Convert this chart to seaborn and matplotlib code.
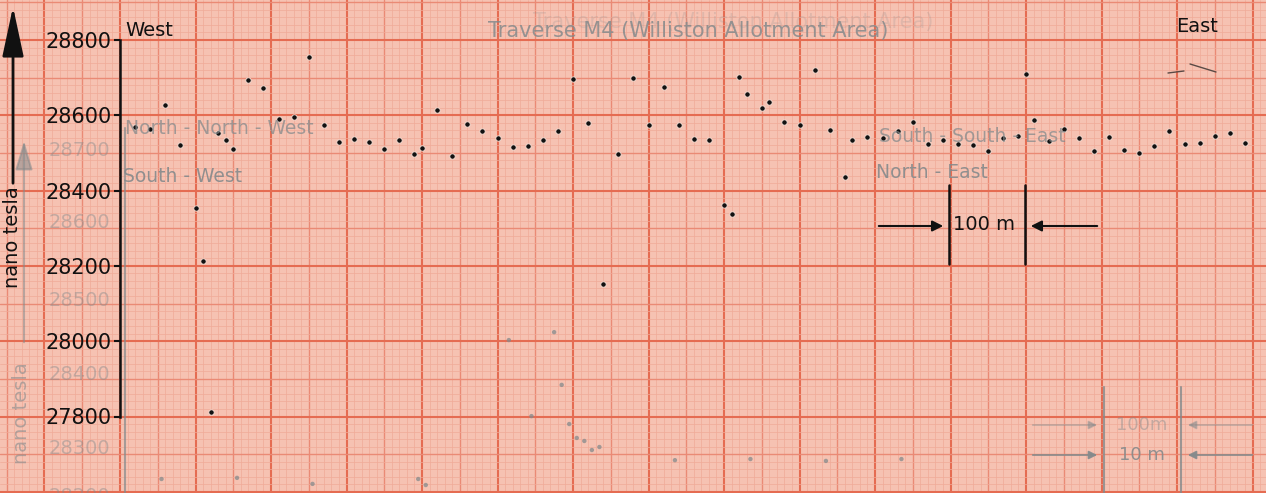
import numpy as np
import pandas as pd
import matplotlib
matplotlib.use("Agg")
import matplotlib.pyplot as plt
import seaborn as sns

# Traverse M4 - Messpunkte (Entfernung in m ab West, Totalfeld in nT)
distance_m = [20, 40, 60, 80, 100, 110, 120, 130, 140, 150,
              170, 190, 210, 230, 250, 270, 290, 310, 330, 350,
              370, 390, 400, 420, 440, 460, 480, 500, 520, 540,
              560, 580, 600, 620, 640, 660, 680, 700, 720, 740,
              760, 780, 800, 810, 820, 830, 850, 860, 880, 900,
              920, 940, 960, 970, 990, 1010, 1030, 1050, 1070, 1090,
              1110, 1130, 1150, 1170, 1190, 1200, 1210, 1230, 1250, 1270,
              1290, 1310, 1330, 1350, 1370, 1390, 1410, 1430, 1450, 1470, 1490]
field_nt = [28570, 28564, 28627, 28520, 28353, 28213, 27811, 28552, 28534, 28511,
            28694, 28672, 28590, 28595, 28754, 28573, 28530, 28536, 28530, 28511,
            28535, 28497, 28512, 28615, 28492, 28578, 28558, 28540, 28516, 28518,
            28534, 28558, 28696, 28579, 28152, 28496, 28698, 28573, 28674, 28573,
            28537, 28534, 28361, 28338, 28703, 28657, 28619, 28635, 28582, 28575,
            28720, 28560, 28435, 28534, 28543, 28541, 28558, 28582, 28524, 28534,
            28524, 28520, 28504, 28541, 28544, 28710, 28587, 28533, 28564, 28541,
            28506, 28542, 28508, 28499, 28518, 28559, 28524, 28526, 28546, 28553, 28527]

# durchscheinende Punkte von der Rueckseite des Blattes
ghost_distance_m = [55, 155, 255, 395, 405, 515, 545, 575, 585, 595,
                    605, 615, 625, 635, 735, 835, 935, 1035]
ghost_field_nt = [27634, 27637, 27621, 27634, 27618, 28003, 27801, 28024, 27884, 27780,
                  27743, 27735, 27711, 27719, 27684, 27687, 27682, 27687]

y_ticks = [27800, 28000, 28200, 28400, 28600, 28800]
ghost_tick_labels = ["28700", "28600", "28500", "28400", "28300", "28200"]

df = pd.DataFrame({"distance": distance_m, "field": field_nt})
df_ghost = pd.DataFrame({"distance": ghost_distance_m, "field": ghost_field_nt})

sns.set_theme(style="white")
plt.rcParams["font.family"] = ["DejaVu Sans"]

W, H = 1266, 493
PX_PER_M = 0.755
PX_PER_NT = 0.3765
X0, Y0 = 120, 40  # Pixel von 0 m bzw. 28800 nT

paper = "#f6c2b2"
ink = "#111111"
ghost = "#858a8c"

fig = plt.figure(figsize=(W / 100, H / 100), dpi=100)
fig.patch.set_facecolor(paper)
ax = fig.add_axes([0, 0, 1, 1])
ax.set_facecolor(paper)
xmin, xmax = -X0 / PX_PER_M, (W - X0) / PX_PER_M
ymin, ymax = 28800 - (H - Y0) / PX_PER_NT, 28800 + Y0 / PX_PER_NT
ax.set_xlim(xmin, xmax)
ax.set_ylim(ymin, ymax)

# Millimeterpapier
def grid_style(v, big, mid):
    if v % big == 0:
        return "#e56c52", 1.5
    if v % mid == 0:
        return "#ea8a75", 1.0
    return "#f0aa98", 0.5

for xv in np.arange(-150, 1520, 10):
    c, lw = grid_style(xv, 100, 50)
    ax.axvline(xv, color=c, lw=lw, zorder=0)
for yv in np.arange(27600, 28920, 20):
    c, lw = grid_style(yv, 200, 100)
    ax.axhline(yv, color=c, lw=lw, zorder=0)

# Messwerte
sns.scatterplot(data=df_ghost, x="distance", y="field", ax=ax, s=10,
                color=ghost, edgecolor="none", alpha=0.75, zorder=3)
sns.scatterplot(data=df, x="distance", y="field", ax=ax, s=15,
                color=ink, edgecolor="#fbe2d8", linewidth=0.6, zorder=4)

# Achse
for side in ["top", "right", "bottom"]:
    ax.spines[side].set_visible(False)
ax.spines["left"].set_position(("data", 0))
ax.spines["left"].set_bounds(27800, 28800)
ax.spines["left"].set_color(ink)
ax.spines["left"].set_linewidth(1.8)
ax.spines["left"].set_zorder(5)
ax.set_xticks([])
ax.set_yticks(y_ticks)
ax.set_yticklabels([str(v) for v in y_ticks], fontsize=15, color=ink)
ax.tick_params(axis="y", direction="out", length=4, width=1.5, pad=2, color=ink, left=True)
ax.set_xlabel("")
ax.set_ylabel("")

# Beschriftungen in Pixelkoordinaten
ov = fig.add_axes([0, 0, 1, 1])
ov.set_xlim(0, W)
ov.set_ylim(H, 0)
ov.axis("off")
ov.patch.set_alpha(0)

# durchscheinende Rueckseite
ov.plot([125, 125], [128, H], color=ghost, lw=1.5, alpha=0.7)
for lab, yp in zip(ghost_tick_labels, [150, 222, 300, 375, 448, 497]):
    ov.text(110, yp, lab, ha="right", va="center", fontsize=14, color=ghost, alpha=0.45)
ov.annotate("", xy=(24, 138), xytext=(24, 345),
            arrowprops=dict(arrowstyle="-|>,head_length=1.0,head_width=0.3",
                            color=ghost, lw=1.5, alpha=0.55, mutation_scale=18))
ov.text(22, 413, "nano tesla", rotation=90, ha="center", va="center",
        fontsize=14, color=ghost, alpha=0.6)
ov.text(733, 22, "Traverse M4 (Williston Allotment Area)", ha="center", va="center",
        fontsize=15, color=ghost, alpha=0.2)
ov.text(688, 31, "Traverse M4 (Williston Allotment Area)", ha="center", va="center",
        fontsize=15, color=ghost, alpha=0.85)
ov.text(125, 128, "North - North - West", ha="left", va="center", fontsize=13.5, color=ghost, alpha=0.75)
ov.text(123, 177, "South - West", ha="left", va="center", fontsize=13.5, color=ghost, alpha=0.9)
ov.text(879, 136, "South - South - East", ha="left", va="center", fontsize=13.5, color=ghost, alpha=0.75)
ov.text(876, 173, "North - East", ha="left", va="center", fontsize=13.5, color=ghost, alpha=0.9)

# Massstab unten rechts (Rueckseite)
for xp in [1104, 1181]:
    ov.plot([xp, xp], [387, H], color=ghost, lw=1.5, alpha=0.8)
ov.text(1142, 425, "100m", ha="center", va="center", fontsize=13, color=ghost, alpha=0.45)
ov.text(1142, 455, "10 m", ha="center", va="center", fontsize=13, color=ghost, alpha=0.9)
for ya, al in [(425, 0.45), (455, 0.9)]:
    ov.annotate("", xy=(1100, ya), xytext=(1030, ya),
                arrowprops=dict(arrowstyle="-|>", color=ghost, lw=1.3, alpha=al, mutation_scale=12))
    ov.annotate("", xy=(1185, ya), xytext=(1255, ya),
                arrowprops=dict(arrowstyle="-|>", color=ghost, lw=1.3, alpha=al, mutation_scale=12))

# Vorderseite
ov.text(125, 30, "West", ha="left", va="center", fontsize=14, color=ink)
ov.text(1176, 26, "East", ha="left", va="center", fontsize=14, color=ink)
ov.plot([1168, 1184], [73, 71], color="#5a4a45", lw=1)
ov.plot([1190, 1216], [64, 72], color="#5a4a45", lw=1)

ov.annotate("", xy=(13, 4), xytext=(13, 186),
            arrowprops=dict(arrowstyle="-|>,head_length=1.4,head_width=0.3",
                            color=ink, lw=2, mutation_scale=22))
ov.text(13, 237, "nano tesla", rotation=90, ha="center", va="center", fontsize=14, color=ink)

# Massstab 100 m
for xp in [949, 1025]:
    ov.plot([xp, xp], [185, 264], color=ink, lw=1.8)
ov.text(984, 224, "100 m", ha="center", va="center", fontsize=14, color=ink)
ov.annotate("", xy=(946, 226), xytext=(876, 226),
            arrowprops=dict(arrowstyle="-|>", color=ink, lw=1.5, mutation_scale=16))
ov.annotate("", xy=(1028, 226), xytext=(1100, 226),
            arrowprops=dict(arrowstyle="-|>", color=ink, lw=1.5, mutation_scale=16))

fig.savefig("out.png", dpi=100, facecolor=paper)
